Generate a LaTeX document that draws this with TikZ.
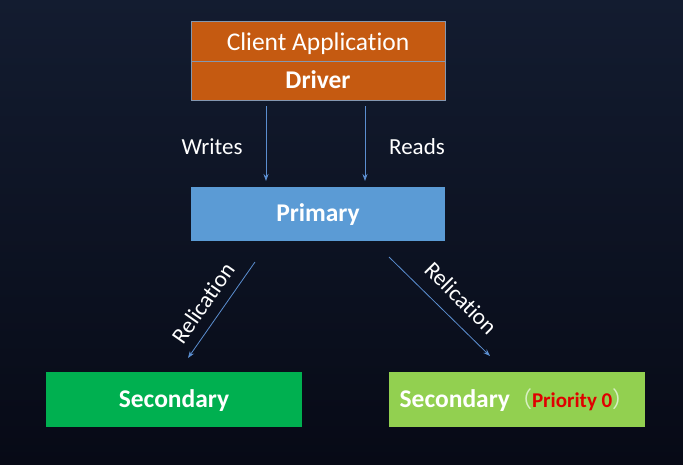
\documentclass[tikz,border=0pt]{standalone}
\usepackage{fontspec}
\setmainfont[Ligatures={NoCommon}]{Carlito}
\newfontfamily\cjkfont{Noto Sans CJK SC}
\usetikzlibrary{arrows.meta}
\definecolor{bgtop}{HTML}{131C30}
\definecolor{bgbot}{HTML}{070A16}
\definecolor{orng}{HTML}{C55A11}
\definecolor{prim}{HTML}{5B9BD5}
\definecolor{secA}{HTML}{00B050}
\definecolor{secB}{HTML}{92D050}
\definecolor{arr}{HTML}{5B8ED0}
\definecolor{edge}{HTML}{8497B0}
\definecolor{paren}{HTML}{D9F0C4}
\definecolor{prio}{HTML}{E00000}

\begin{document}
\begin{tikzpicture}[x=1pt, y=-1pt]
	\tikzset{bx/.style={rectangle, minimum width=254pt, inner sep=0pt, text=white, text height=16pt, text depth=1pt, font=\fontsize{25.5}{30}\selectfont\bfseries},
		lbl/.style={text=white, font=\fontsize{23}{28}\selectfont},
		flow/.style={draw=arr, line width=0.8pt, -{Stealth[length=7pt, width=5pt]}}};

	\shade[top color=bgtop, bottom color=bgbot] (0,0) rectangle (683,464);
	\useasboundingbox (0,0) rectangle (683,464);

	\node[bx, fill=orng, draw=edge, minimum height=40pt, text height=20pt, text depth=0.5pt, font=\fontsize{25.5}{30}\selectfont] (app) at (318,41) {Client Application};
	\node[bx, fill=orng, draw=edge, minimum height=39pt] (drv) at (318,80.5) {Driver};
	\node[bx, fill=prim, minimum height=54pt] (prim) at (318,214) {Primary};
	\node[bx, fill=secA, minimum width=256pt, minimum height=55pt] (sec1) at (174,399.5) {Secondary};
	\node[bx, fill=secB, minimum width=256pt, minimum height=55pt] (sec2) at (517,399.5) {Secondary{\cjkfont\mdseries\color{paren}\fontsize{22}{26}\selectfont （}{\color{prio}\fontsize{21}{25}\selectfont Priority 0}{\cjkfont\mdseries\color{paren}\fontsize{22}{26}\selectfont ）}\hspace{6pt}};

	\node[lbl] (wr) at (212,147) {Writes};
	\node[lbl] (rd) at (417,147) {Reads};
	\node[lbl, rotate=55] (rl1) at (203,303) {Relication};
	\node[lbl, rotate=-45] (rl2) at (461,298) {Relication};

	\coordinate (w0) at (266,106);
	\coordinate (w1) at (266,181);
	\coordinate (r0) at (365,106);
	\coordinate (r1) at (365,181);
	\coordinate (s0) at (255,262);
	\coordinate (s1) at (188,358);
	\coordinate (t0) at (389,257);
	\coordinate (t1) at (490,356);

	\draw[flow] (w0) to (w1);
	\draw[flow] (r0) to (r1);
	\draw[flow] (s0) to (s1);
	\draw[flow] (t0) to (t1);

\end{tikzpicture}
\end{document}
